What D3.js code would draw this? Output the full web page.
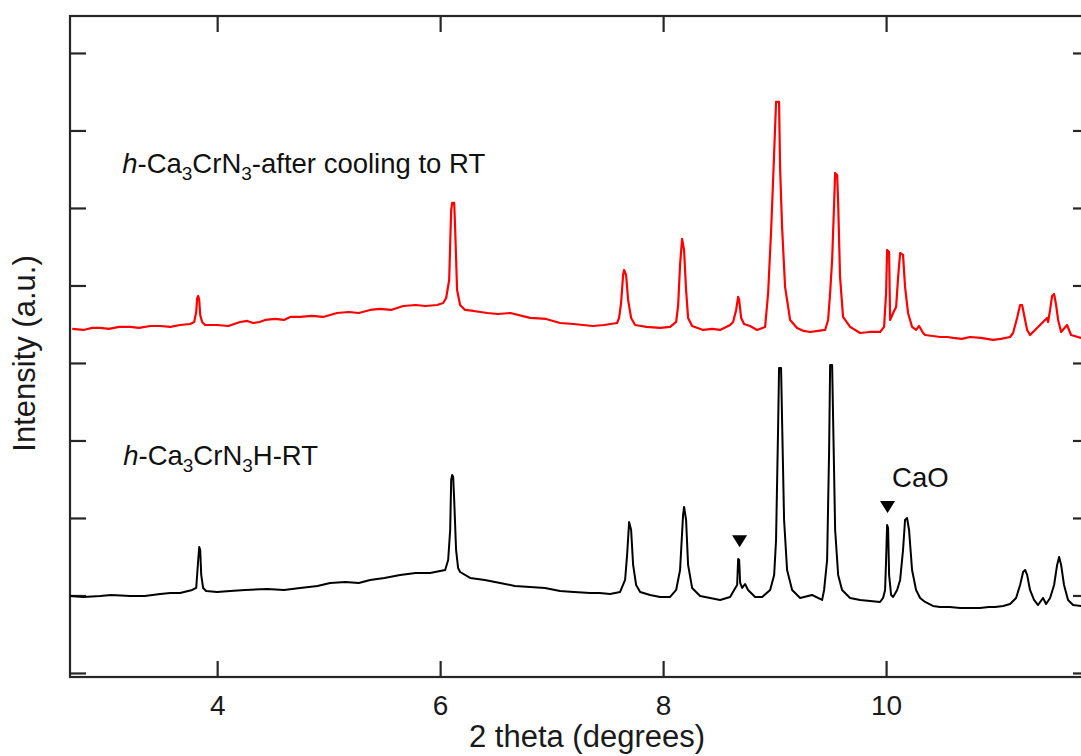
<!DOCTYPE html>
<html>
<head>
<meta charset="utf-8">
<script src="https://cdn.jsdelivr.net/npm/d3@7"></script>
<style>
  html, body { margin: 0; padding: 0; background: #fff; }
  svg { display: block; font-family: Arial, "Liberation Sans", sans-serif; }
</style>
</head>
<body>
<svg id="chart" width="1081" height="756"></svg>
<script>
// XRD patterns, 2θ (degrees) vs intensity (a.u., stacked)
const xTicks = [4, 6, 8, 10];
const yTicks = [0, 1, 2, 3, 4, 5, 6, 7, 8];

// h-Ca3CrN3 after cooling to RT (upper, red)
const cooledPattern = [
  [2.700, 4.439], [2.800, 4.426], [2.880, 4.452], [2.951, 4.452], [3.030, 4.439],
  [3.120, 4.465], [3.220, 4.465], [3.300, 4.452], [3.400, 4.477], [3.489, 4.477],
  [3.580, 4.465], [3.668, 4.490],
  [3.758, 4.503], [3.794, 4.529], [3.812, 4.658], [3.821, 4.839], [3.830, 4.865],
  [3.839, 4.813], [3.848, 4.619], [3.865, 4.529], [3.892, 4.490], [4.000, 4.490],
  [4.100, 4.477], [4.206, 4.529], [4.270, 4.542], [4.323, 4.516], [4.380, 4.529],
  [4.430, 4.555], [4.520, 4.568], [4.600, 4.555], [4.655, 4.594], [4.744, 4.594],
  [4.850, 4.607], [4.950, 4.594], [5.076, 4.645], [5.180, 4.658], [5.270, 4.645],
  [5.372, 4.684], [5.460, 4.697], [5.560, 4.684], [5.668, 4.735], [5.780, 4.748],
  [5.870, 4.735], [5.973, 4.748], [6.027, 4.774],
  [6.054, 4.839], [6.081, 5.071], [6.099, 5.974], [6.108, 6.065], [6.126, 6.065],
  [6.135, 5.716], [6.152, 4.942], [6.179, 4.748], [6.224, 4.684], [6.300, 4.671],
  [6.422, 4.645], [6.520, 4.632], [6.630, 4.645], [6.807, 4.581], [6.950, 4.568],
  [7.076, 4.516], [7.200, 4.503], [7.280, 4.490], [7.372, 4.477], [7.470, 4.490],
  [7.587, 4.516], [7.605, 4.581],
  [7.623, 4.774], [7.641, 5.135], [7.650, 5.200], [7.668, 5.135], [7.686, 4.813],
  [7.713, 4.581], [7.749, 4.490], [7.850, 4.465], [7.973, 4.452], [8.063, 4.465], [8.117, 4.529],
  [8.135, 4.748], [8.152, 5.265], [8.170, 5.600], [8.188, 5.458], [8.206, 4.942],
  [8.224, 4.581], [8.260, 4.477], [8.359, 4.426], [8.440, 4.439], [8.511, 4.426], [8.601, 4.490],
  [8.628, 4.529], [8.655, 4.684], [8.673, 4.852], [8.682, 4.813], [8.700, 4.581],
  [8.726, 4.503], [8.780, 4.477], [8.843, 4.426], [8.915, 4.465], [8.942, 4.903],
  [8.969, 5.716], [8.996, 6.710], [9.013, 7.368], [9.040, 7.368], [9.049, 6.529],
  [9.067, 5.755], [9.094, 4.981], [9.139, 4.555], [9.202, 4.452], [9.260, 4.413], [9.318, 4.400],
  [9.390, 4.413], [9.453, 4.426], [9.480, 4.555], [9.498, 4.903], [9.516, 5.329], [9.534, 6.065],
  [9.543, 6.452], [9.561, 6.426], [9.570, 6.065], [9.587, 5.110], [9.614, 4.594],
  [9.677, 4.465], [9.767, 4.387], [9.850, 4.400], [9.946, 4.400], [9.982, 4.465], [10.000, 4.903],
  [10.009, 5.458], [10.027, 5.432], [10.036, 4.555], [10.063, 4.645], [10.090, 4.723],
  [10.108, 5.110], [10.126, 5.419], [10.152, 5.394], [10.170, 4.981], [10.197, 4.645],
  [10.233, 4.465], [10.269, 4.426], [10.296, 4.477], [10.332, 4.387], [10.350, 4.361],
  [10.420, 4.348], [10.484, 4.335], [10.550, 4.335], [10.601, 4.323], [10.680, 4.310],
  [10.753, 4.335], [10.850, 4.323], [10.960, 4.297], [11.030, 4.310], [11.112, 4.335],
  [11.139, 4.387], [11.175, 4.581], [11.202, 4.748], [11.220, 4.748], [11.238, 4.619],
  [11.265, 4.426], [11.291, 4.361], [11.354, 4.452], [11.426, 4.555], [11.444, 4.581],
  [11.453, 4.529], [11.471, 4.684], [11.489, 4.865], [11.507, 4.890], [11.525, 4.748],
  [11.543, 4.555], [11.570, 4.400], [11.623, 4.490], [11.659, 4.361], [11.749, 4.323],
  [11.830, 4.323]
];

// h-Ca3CrN3H at RT (lower, black)
const hydridePattern = [
  [2.682, 0.994], [2.800, 0.981], [2.951, 0.994], [3.050, 1.006], [3.220, 0.994],
  [3.350, 0.994], [3.489, 1.019], [3.580, 1.032], [3.668, 1.032],
  [3.776, 1.071], [3.812, 1.097], [3.830, 1.458], [3.839, 1.626], [3.848, 1.587],
  [3.857, 1.265], [3.874, 1.097], [3.901, 1.058], [4.000, 1.045], [4.117, 1.058],
  [4.250, 1.071], [4.450, 1.084], [4.600, 1.071], [4.744, 1.097], [4.900, 1.123],
  [5.013, 1.161], [5.150, 1.174], [5.270, 1.161], [5.372, 1.200], [5.500, 1.226],
  [5.641, 1.265], [5.780, 1.290], [5.910, 1.290], [6.045, 1.329],
  [6.072, 1.458], [6.090, 1.845], [6.099, 2.490], [6.108, 2.555], [6.117, 2.529],
  [6.126, 2.232], [6.143, 1.587], [6.161, 1.355], [6.179, 1.303], [6.269, 1.226],
  [6.400, 1.200], [6.538, 1.161], [6.670, 1.123], [6.807, 1.110], [6.940, 1.097],
  [7.076, 1.058], [7.200, 1.045], [7.345, 1.032], [7.430, 1.032], [7.525, 1.019],
  [7.614, 1.045], [7.659, 1.200], [7.677, 1.523], [7.695, 1.948], [7.713, 1.845],
  [7.731, 1.394], [7.758, 1.135], [7.794, 1.045], [7.883, 1.006], [7.973, 0.981],
  [8.063, 0.981], [8.117, 1.071], [8.152, 1.329], [8.179, 2.039], [8.188, 2.142],
  [8.206, 1.974], [8.224, 1.394], [8.260, 1.097], [8.332, 0.994], [8.422, 0.968],
  [8.511, 0.942], [8.601, 0.981], [8.637, 1.071], [8.664, 1.135], [8.673, 1.471],
  [8.682, 1.458], [8.691, 1.161], [8.709, 1.097], [8.735, 1.148], [8.762, 1.071],
  [8.825, 0.981], [8.888, 0.981], [8.960, 1.071], [8.996, 1.265], [9.013, 1.716],
  [9.031, 3.135], [9.040, 3.935], [9.058, 3.935], [9.067, 3.265], [9.085, 1.974],
  [9.112, 1.329], [9.157, 1.071], [9.229, 0.968], [9.336, 1.006], [9.426, 0.942],
  [9.444, 1.071], [9.471, 1.458], [9.489, 2.877], [9.498, 3.974], [9.516, 3.974],
  [9.525, 3.265], [9.543, 1.845], [9.570, 1.265], [9.605, 1.071], [9.677, 0.968],
  [9.767, 0.942], [9.857, 0.929], [9.946, 0.916], [9.973, 0.968], [9.991, 1.071],
  [10.000, 1.458], [10.009, 1.910], [10.018, 1.871], [10.027, 1.265], [10.045, 1.006],
  [10.063, 0.981], [10.099, 1.071], [10.126, 1.200], [10.152, 1.587], [10.170, 1.974],
  [10.188, 2.000], [10.206, 1.845], [10.233, 1.329], [10.269, 1.071], [10.305, 0.968],
  [10.350, 0.916], [10.420, 0.865], [10.484, 0.852], [10.570, 0.852], [10.664, 0.839],
  [10.750, 0.839], [10.843, 0.839], [10.920, 0.852], [10.978, 0.852], [11.050, 0.865],
  [11.112, 0.890], [11.166, 0.968], [11.202, 1.135], [11.229, 1.303], [11.247, 1.329],
  [11.265, 1.265], [11.291, 1.071], [11.327, 0.942], [11.363, 0.877], [11.408, 0.968],
  [11.435, 0.890], [11.471, 0.968], [11.507, 1.135], [11.534, 1.394], [11.552, 1.497],
  [11.570, 1.394], [11.596, 1.135], [11.632, 0.942], [11.677, 0.877], [11.749, 0.865],
  [11.830, 0.865]
];

// CaO impurity reflections marked with ▼
const caoMarks = [[8.686, 1.70], [10.013, 2.14]];

const svg = d3.select("#chart");
const plotLeft = 70, plotRight = 1089, plotTop = 16, plotBottom = 677;

const x = d3.scaleLinear().domain([2.68, 11.82]).range([plotLeft, plotRight]);
const y = d3.scaleLinear().domain([-0.052, 8.477]).range([plotBottom, plotTop]);

const axisColor = "#262626";

// frame
svg.append("rect")
  .attr("x", plotLeft).attr("y", plotTop)
  .attr("width", plotRight - plotLeft).attr("height", plotBottom - plotTop)
  .attr("fill", "none").attr("stroke", axisColor).attr("stroke-width", 2.2);

// inward ticks on all four sides
const tickLen = 16;
const gB = svg.append("g").attr("transform", `translate(0,${plotBottom})`)
  .call(d3.axisBottom(x).tickValues(xTicks).tickSizeInner(-tickLen).tickSizeOuter(0).tickPadding(18).tickFormat(d3.format("d")));
const gT = svg.append("g").attr("transform", `translate(0,${plotTop})`)
  .call(d3.axisTop(x).tickValues(xTicks).tickSizeInner(-tickLen).tickSizeOuter(0).tickFormat(""));
const gL = svg.append("g").attr("transform", `translate(${plotLeft},0)`)
  .call(d3.axisLeft(y).tickValues(yTicks).tickSizeInner(-tickLen).tickSizeOuter(0).tickFormat(""));
const gR = svg.append("g").attr("transform", `translate(${plotRight},0)`)
  .call(d3.axisRight(y).tickValues(yTicks).tickSizeInner(-tickLen).tickSizeOuter(0).tickFormat(""));

[gB, gT, gL, gR].forEach(g => {
  g.select(".domain").remove();
  g.selectAll(".tick line").attr("stroke", axisColor).attr("stroke-width", 2.2);
});
gB.selectAll(".tick text")
  .attr("font-size", 28).attr("fill", "#1a1a1a")
  .attr("font-family", "Arial, 'Liberation Sans', sans-serif");

// patterns
const byAngle = (a, b) => a[0] - b[0];
const line = d3.line().x(d => x(d[0])).y(d => y(d[1]));
const plot = svg.append("g");
plot.append("path").datum(hydridePattern.slice().sort(byAngle))
  .attr("d", line).attr("fill", "none").attr("stroke", "#000").attr("stroke-width", 2).attr("stroke-linejoin", "round");
plot.append("path").datum(cooledPattern.slice().sort(byAngle))
  .attr("d", line).attr("fill", "none").attr("stroke", "#ff0000").attr("stroke-width", 2.2).attr("stroke-linejoin", "round");

// ▼ markers
const triW = 15, triH = 12;
svg.append("g").selectAll("path").data(caoMarks).join("path")
  .attr("d", d => {
    const cx = x(d[0]), cy = y(d[1]);
    return `M${cx - triW / 2},${cy - triH / 2}L${cx + triW / 2},${cy - triH / 2}L${cx},${cy + triH / 2}Z`;
  })
  .attr("fill", "#000");

// labels
function formula(g, px, py, parts) {
  const t = g.append("text").attr("x", px).attr("y", py)
    .attr("font-size", 27.5).attr("fill", "#111");
  parts.forEach(p => {
    const s = t.append("tspan").text(p.t);
    if (p.i) s.attr("font-style", "italic");
    if (p.sub) s.attr("font-size", 19).attr("dy", 7);
    if (p.up) s.attr("dy", -7);
  });
  return t;
}
const ann = svg.append("g");
formula(ann, x(3.148), y(6.452), [
  { t: "h", i: true }, { t: "-Ca" }, { t: "3", sub: true }, { t: "CrN", up: true },
  { t: "3", sub: true }, { t: "-after cooling to RT", up: true }
]);
formula(ann, x(3.157), y(2.684), [
  { t: "h", i: true }, { t: "-Ca" }, { t: "3", sub: true }, { t: "CrN", up: true },
  { t: "3", sub: true }, { t: "H-RT", up: true }
]);
ann.append("text").attr("x", x(10.054)).attr("y", y(2.40))
  .attr("font-size", 27.5).attr("fill", "#111").text("CaO");

// axis titles
svg.append("text")
  .attr("x", (plotLeft + 1104) / 2).attr("y", 747)
  .attr("text-anchor", "middle").attr("font-size", 31).attr("fill", "#1a1a1a")
  .text("2 theta (degrees)");
svg.append("text")
  .attr("transform", `translate(35,${(255 + 452) / 2}) rotate(-90)`)
  .attr("text-anchor", "middle").attr("font-size", 31).attr("fill", "#1a1a1a")
  .text("Intensity (a.u.)");
</script>
</body>
</html>
